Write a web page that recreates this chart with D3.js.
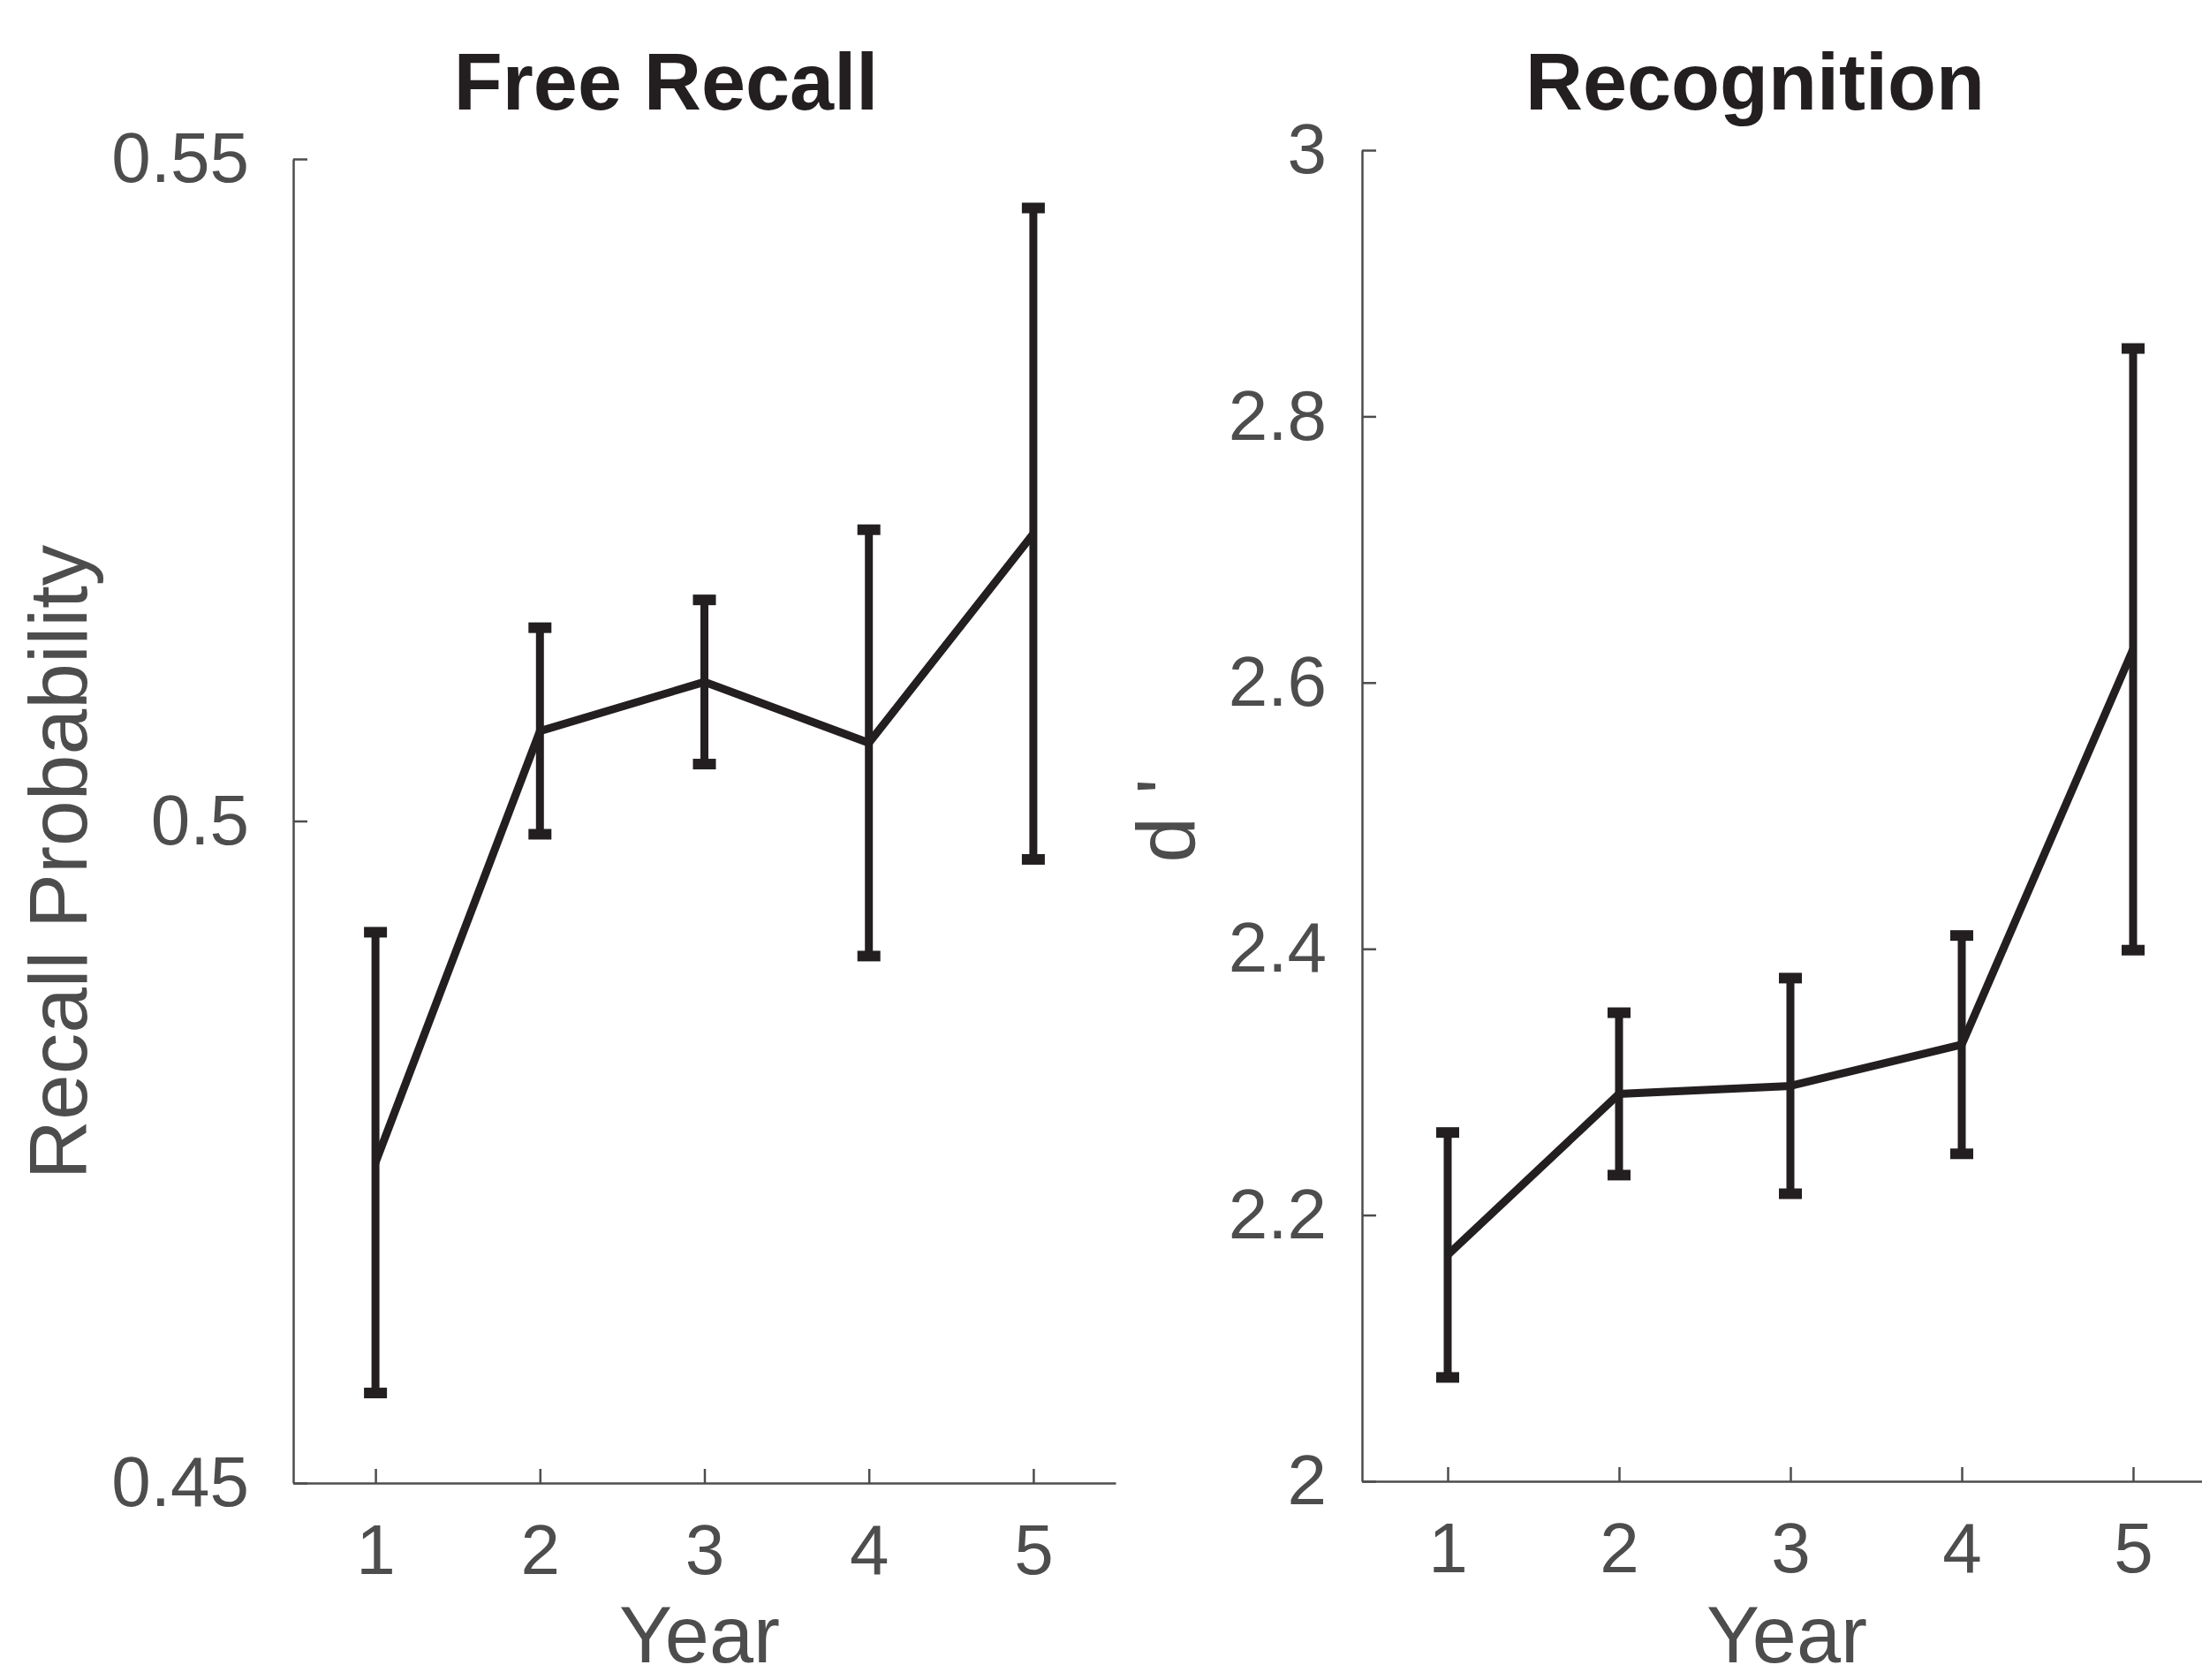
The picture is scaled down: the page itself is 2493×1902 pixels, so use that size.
<!DOCTYPE html>
<html>
<head>
<meta charset="utf-8">
<script src="https://cdn.jsdelivr.net/npm/d3@7"></script>
<style>
  body { margin: 0; background: #fff; }
  text { font-family: "Liberation Sans", Arial, Helvetica, sans-serif; }
</style>
</head>
<body>
<script>
var w = 2493;
var h = 1902;

var years = [1, 2, 3, 4, 5];

// Free Recall: mean and error half-width
var recallMean = [0.4742, 0.5068, 0.5105, 0.5059, 0.5217];
var recallErr  = [0.0174, 0.0078, 0.0062, 0.0161, 0.0246];
var recallTicks = [0.45, 0.5, 0.55];

// Recognition (d')
var recogMean = [2.170, 2.291, 2.297, 2.328, 2.625];
var recogErr  = [0.092, 0.061, 0.081, 0.082, 0.226];
var recogTicks = [2, 2.2, 2.4, 2.6, 2.8, 3];

var ink = "#231f20";
var axisCol = "#4d4d4d";

var svg = d3.select("body")
            .append("svg")
              .attr("width", w)
              .attr("height", h);

function panel(opts) {
  var x = d3.scaleLinear().domain([0.5, 5.5]).range(opts.xr);
  var y = d3.scaleLinear().domain(opts.yd).range(opts.yr);
  var g = svg.append("g");

  // axes (ticks point inward)
  var ax = g.append("g")
      .attr("transform", "translate(0," + opts.yr[0] + ")")
      .call(d3.axisBottom(x).tickValues(years).tickFormat(d3.format("d"))
              .tickSizeInner(-16).tickSizeOuter(0).tickPadding(46));
  var ay = g.append("g")
      .attr("transform", "translate(" + opts.xr[0] + ",0)")
      .call(d3.axisLeft(y).tickValues(opts.ticks).tickFormat(function(d) { return String(d); })
              .tickSizeInner(-16).tickSizeOuter(0).tickPadding(opts.ypad));
  [ax, ay].forEach(function(a) {
    a.select(".domain").attr("stroke", axisCol).attr("stroke-width", 2.5);
    a.selectAll(".tick line").attr("stroke", axisCol).attr("stroke-width", 2.5);
    a.selectAll(".tick text")
      .attr("fill", axisCol)
      .style("font-size", "80px")
      .style("font-family", "'Liberation Sans', Arial, sans-serif");
  });

  // error bars
  var eb = g.selectAll(".eb")
    .data(years.map(function(d, i) { return {x: d, m: opts.mean[i], e: opts.err[i]}; }))
    .enter().append("g");
  eb.append("line")
    .attr("x1", function(d) { return x(d.x); })
    .attr("x2", function(d) { return x(d.x); })
    .attr("y1", function(d) { return y(d.m + d.e); })
    .attr("y2", function(d) { return y(d.m - d.e); })
    .attr("stroke", ink).attr("stroke-width", 9);
  [1, -1].forEach(function(s) {
    eb.append("line")
      .attr("x1", function(d) { return x(d.x) - 13; })
      .attr("x2", function(d) { return x(d.x) + 13; })
      .attr("y1", function(d) { return y(d.m + s * d.e); })
      .attr("y2", function(d) { return y(d.m + s * d.e); })
      .attr("stroke", ink).attr("stroke-width", 12);
  });

  // mean line
  var line = d3.line()
    .x(function(d, i) { return x(years[i]); })
    .y(function(d) { return y(d); });
  g.append("path")
    .datum(opts.mean)
    .attr("d", line)
    .attr("fill", "none")
    .attr("stroke", ink)
    .attr("stroke-width", 9)
    .attr("stroke-linejoin", "miter");

  // title
  g.append("text")
    .text(opts.title)
    .attr("x", opts.titleX)
    .attr("y", opts.titleY)
    .attr("text-anchor", "middle")
    .style("font-size", "90px")
    .style("font-weight", "bold")
    .style("fill", ink);

  // x label
  g.append("text")
    .text("Year")
    .attr("x", opts.xlabX)
    .attr("y", 1882)
    .attr("text-anchor", "middle")
    .style("font-size", "90px")
    .style("fill", axisCol);

  // y label
  g.append("text")
    .attr("transform", "translate(" + opts.ylabX + "," + opts.ylabY + ") rotate(-90)")
    .attr("text-anchor", "middle")
    .style("font-size", "93px")
    .style("fill", axisCol)
    .text(opts.ylab);
}

panel({
  xr: [332, 1263], yr: [1679, 180], yd: [0.45, 0.55], ticks: recallTicks, ypad: 50,
  mean: recallMean, err: recallErr,
  title: "Free Recall", titleX: 754, titleY: 124,
  xlabX: 792, ylab: "Recall Probability", ylabX: 98, ylabY: 976
});

panel({
  xr: [1542, 2512], yr: [1677, 170], yd: [2, 3], ticks: recogTicks, ypad: 40,
  mean: recogMean, err: recogErr,
  title: "Recognition", titleX: 1987, titleY: 124,
  xlabX: 2023, ylab: "d '", ylabX: 1352, ylabY: 929
});
</script>
</body>
</html>
